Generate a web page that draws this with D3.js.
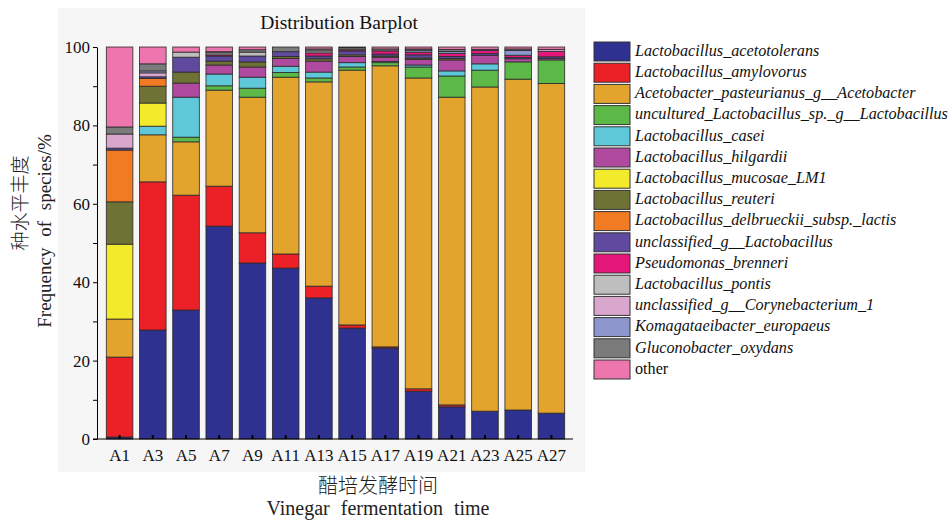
<!DOCTYPE html>
<html>
<head>
<meta charset="utf-8">
<script src="https://cdn.jsdelivr.net/npm/d3@7"></script>
<style>
  body { margin: 0; background: #fff; }
</style>
</head>
<body>
<div id="chart"></div>
<script>
// samples (fermentation time) and species, bottom to top of each stack
var samples = ["A1", "A3", "A5", "A7", "A9", "A11", "A13", "A15", "A17", "A19", "A21", "A23", "A25", "A27"];
var species = [
  "Lactobacillus_acetotolerans",
  "Lactobacillus_amylovorus",
  "Acetobacter_pasteurianus_g__Acetobacter",
  "uncultured_Lactobacillus_sp._g__Lactobacillus",
  "Lactobacillus_casei",
  "Lactobacillus_hilgardii",
  "Lactobacillus_mucosae_LM1",
  "Lactobacillus_reuteri",
  "Lactobacillus_delbrueckii_subsp._lactis",
  "unclassified_g__Lactobacillus",
  "Pseudomonas_brenneri",
  "Lactobacillus_pontis",
  "unclassified_g__Corynebacterium_1",
  "Komagataeibacter_europaeus",
  "Gluconobacter_oxydans",
  "other"
];
var colors = ["#2e3190", "#ec2027", "#e3a42d", "#5cb947", "#5ec8d8", "#b04a9e", "#f2ea2a", "#6e7234",
              "#f07b22", "#5f4aa0", "#e6177a", "#bebebe", "#d9a6ce", "#8d96cd", "#7b7b7b", "#ec76ad"];

// percent per sample, one array per species
var acetotolerans = [0.5, 27.8, 32.9, 54.3, 44.9, 43.6, 36.0, 28.3, 23.2, 12.2, 8.2, 7.1, 7.4, 6.6];
var amylovorus    = [20.4, 37.8, 29.3, 10.2, 7.7, 3.6, 3.0, 0.8, 0.3, 0.6, 0.5, 0, 0, 0];
var acetobacter   = [9.7, 12.0, 13.6, 24.5, 34.6, 45.1, 52.1, 65.0, 71.7, 79.3, 78.5, 82.7, 84.4, 84.1];
var uncultured    = [0, 0, 1.2, 1.1, 2.3, 1.2, 1.0, 0.8, 0.8, 2.8, 5.4, 4.3, 4.4, 6.0];
var casei         = [0, 2.2, 10.2, 3.0, 2.8, 1.6, 1.5, 1.1, 0.3, 0.5, 1.3, 1.6, 0, 0];
var hilgardii     = [0, 0, 3.6, 2.3, 2.6, 2.0, 2.8, 1.6, 1.1, 1.4, 2.8, 2.2, 0.8, 0.4];
var mucosae       = [19.1, 5.9, 0, 0, 0, 0, 0, 0, 0, 0, 0, 0, 0, 0];
var reuteri       = [10.8, 4.3, 2.8, 1.0, 1.3, 0.5, 0.6, 0.4, 0.3, 0.4, 0.4, 0, 0, 0];
var delbrueckii   = [13.2, 2.0, 0, 0, 0, 0, 0, 0, 0, 0, 0, 0, 0, 0];
var unclassLacto  = [0.5, 0.4, 3.8, 1.3, 1.5, 1.2, 0.7, 1.0, 0.5, 0.8, 0.5, 0.4, 0.3, 0.4];
var pseudomonas   = [0, 0, 0, 0.3, 0, 0, 0.8, 0.3, 0.8, 0.7, 0.8, 0.8, 0.6, 1.4];
var pontis        = [0, 0, 1.3, 0.5, 1.0, 0, 0.5, 0, 0, 0, 0, 0, 0, 0];
var coryne        = [3.6, 1.0, 0, 0, 0, 0, 0, 0, 0, 0, 0, 0, 0, 0.5];
var komagatae     = [0, 0.5, 0, 0, 0, 0, 0, 0, 0, 0.5, 0.5, 0.3, 1.2, 0];
var gluconobacter = [1.8, 1.8, 0, 0.3, 0.6, 1.2, 0.5, 0.5, 0.5, 0.3, 0.5, 0, 0.4, 0];
var other         = [20.4, 4.3, 1.3, 1.2, 0.7, 0, 0.5, 0.2, 0.5, 0.5, 0.6, 0.6, 0.5, 0.6];

var yTicks = [0, 20, 40, 60, 80, 100];
var yMinor = [10, 30, 50, 70, 90];

var seriesValues = [acetotolerans, amylovorus, acetobacter, uncultured, casei, hilgardii, mucosae, reuteri,
                    delbrueckii, unclassLacto, pseudomonas, pontis, coryne, komagatae, gluconobacter, other];

var width = 951, height = 521;
var serif = "'Liberation Serif', 'Times New Roman', serif";
var cjk = "'Noto Sans CJK SC', sans-serif";

var svg = d3.select("#chart").append("svg")
    .attr("width", width)
    .attr("height", height);

// light panel behind the plot
svg.append("rect")
  .attr("x", 58).attr("y", 8)
  .attr("width", 527).attr("height", 464)
  .attr("fill", "#f6f6f6");

var rows = samples.map(function(s, i) {
  var r = {sample: s};
  species.forEach(function(sp, j) { r[sp] = seriesValues[j][i]; });
  return r;
});
var stacked = d3.stack().keys(species)(rows);

var x = d3.scaleBand()
    .domain(samples)
    .range([98, 573])
    .paddingInner(0.2)
    .paddingOuter(0.25);

var y = d3.scaleLinear()
    .domain([0, 100])
    .range([439, 47]);

var color = d3.scaleOrdinal().domain(species).range(colors);

svg.append("g").selectAll("g")
  .data(stacked)
  .enter().append("g")
    .attr("fill", function(d) { return color(d.key); })
  .selectAll("rect")
  .data(function(d) { return d.filter(function(p) { return p[1] - p[0] > 0; }); })
  .enter().append("rect")
    .attr("x", function(d) { return x(d.data.sample); })
    .attr("y", function(d) { return y(d[1]); })
    .attr("width", x.bandwidth())
    .attr("height", function(d) { return y(d[0]) - y(d[1]); })
    .attr("stroke", "#2a2a2a")
    .attr("stroke-width", 0.8);

// y axis
var yAxis = svg.append("g")
    .attr("transform", "translate(97,0)")
    .call(d3.axisLeft(y).tickValues(yTicks).tickSize(4).tickSizeOuter(0).tickPadding(3));
svg.append("g")
    .attr("transform", "translate(97,0)")
    .call(d3.axisLeft(y).tickValues(yMinor).tickSize(4).tickFormat(""))
    .select(".domain").remove();
yAxis.selectAll("text")
  .style("font-family", serif)
  .style("font-size", "17px")
  .attr("fill", "#111");

// x axis
var xAxis = svg.append("g")
    .attr("transform", "translate(0,439)")
    .call(d3.axisBottom(x).tickSize(-4).tickSizeOuter(0).tickPadding(10));
xAxis.select(".domain").attr("d", "M93,0H573");
xAxis.selectAll(".tick line").attr("stroke-width", 2);
xAxis.selectAll("text")
  .style("font-family", serif)
  .style("font-size", "17px")
  .attr("fill", "#111");

//title
svg.append("text")
  .attr("x", 339)
  .attr("y", 29)
  .attr("text-anchor", "middle")
  .text("Distribution Barplot")
  .style("font-size", "19.5px")
  .style("font-family", serif)
  .style("fill", "#111");

// y labels
svg.append("text")
  .attr("transform", "translate(27,203) rotate(-90)")
  .attr("text-anchor", "middle")
  .text("种水平丰度")
  .style("font-size", "19px")
  .style("font-family", cjk)
  .style("font-weight", "300")
  .style("fill", "#222");
svg.append("text")
  .attr("transform", "translate(51,231) rotate(-90)")
  .attr("text-anchor", "middle")
  .text("Frequency of species/%")
  .style("font-size", "19px")
  .style("word-spacing", "6px")
  .style("font-family", serif)
  .style("fill", "#222");

// x labels
svg.append("text")
  .attr("x", 378)
  .attr("y", 493)
  .attr("text-anchor", "middle")
  .text("醋培发酵时间")
  .style("font-size", "20px")
  .style("font-family", cjk)
  .style("font-weight", "300")
  .style("fill", "#222");
svg.append("text")
  .attr("x", 378)
  .attr("y", 515)
  .attr("text-anchor", "middle")
  .text("Vinegar fermentation time")
  .style("font-size", "20px")
  .style("word-spacing", "6px")
  .style("font-family", serif)
  .style("fill", "#222");

// legend
var legend = svg.append("g").selectAll("g")
  .data(species)
  .enter().append("g")
    .attr("transform", function(d, i) { return "translate(594," + (42 + i * 21.2) + ")"; });
legend.append("rect")
  .attr("width", 36)
  .attr("height", 19)
  .attr("fill", function(d) { return color(d); })
  .attr("stroke", "#333")
  .attr("stroke-width", 1);
legend.append("text")
  .attr("x", 41)
  .attr("y", 10)
  .attr("dominant-baseline", "middle")
  .text(function(d) { return d; })
  .style("font-size", "16.2px")
  .style("font-family", serif)
  .style("font-style", function(d) { return d === "other" ? "normal" : "italic"; })
  .style("fill", "#111");
</script>
</body>
</html>
